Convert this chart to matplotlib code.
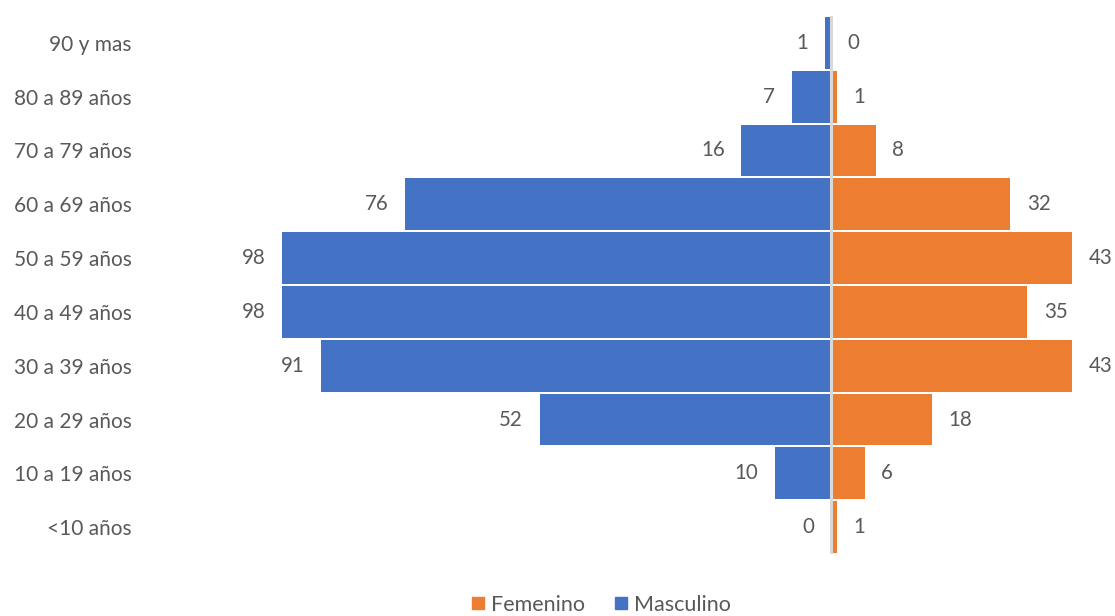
import matplotlib
matplotlib.use("Agg")
import matplotlib.pyplot as plt
from matplotlib.lines import Line2D

categories = ["<10 años", "10 a 19 años", "20 a 29 años", "30 a 39 años", "40 a 49 años",
              "50 a 59 años", "60 a 69 años", "70 a 79 años", "80 a 89 años", "90 y mas"]
masculino = [0, 10, 52, 91, 98, 98, 76, 16, 7, 1]
femenino = [1, 6, 18, 43, 35, 43, 32, 8, 1, 0]

BLUE = "#4472C4"
ORANGE = "#ED7D31"
TXT = "#595959"

plt.rcParams['font.family'] = ['Lato', 'DejaVu Sans']

W, H = 1115, 616
fig = plt.figure(figsize=(W / 100, H / 100), dpi=100)
x0_px, x1_px, zero_px, scale = 140, 1110, 831, 5.6
ax = fig.add_axes([x0_px / W, (H - 554) / H, (x1_px - x0_px) / W, (554 - 16) / H])

y = list(range(len(categories)))
ax.barh(y, [-m for m in masculino], height=0.96, color=BLUE, zorder=2)
ax.barh(y, femenino, height=0.96, color=ORANGE, zorder=2)
ax.axvline(0, color="#D9D9D9", lw=2.2, zorder=3)

for i, (m, f) in enumerate(zip(masculino, femenino)):
    ax.annotate(str(m), (-m, i), xytext=(-12, 0), textcoords="offset points",
                ha="right", va="center", fontsize=14.8, color=TXT)
    ax.annotate(str(f), (f, i), xytext=(12, 0), textcoords="offset points",
                ha="left", va="center", fontsize=14.8, color=TXT)

ax.set_xlim((x0_px - zero_px) / scale, (x1_px - zero_px) / scale)
ax.set_ylim(-0.5, len(categories) - 0.5)
ax.set_yticks(y)
ax.set_yticklabels(categories, fontsize=15, color=TXT)
ax.tick_params(axis="y", length=0, pad=6)
ax.set_xticks([])
for s in ax.spines.values():
    s.set_visible(False)

handles = [Line2D([], [], marker="s", ls="", color=ORANGE, markersize=8.5),
           Line2D([], [], marker="s", ls="", color=BLUE, markersize=8.5)]
fig.legend(handles, ["Femenino", "Masculino"], loc="center", bbox_to_anchor=(600 / W, 1 - 605 / H),
           ncol=2, frameon=False, fontsize=15.5, labelcolor=TXT, handletextpad=0.2,
           columnspacing=1.3, handlelength=0.8)

fig.savefig("out.png", dpi=100)
